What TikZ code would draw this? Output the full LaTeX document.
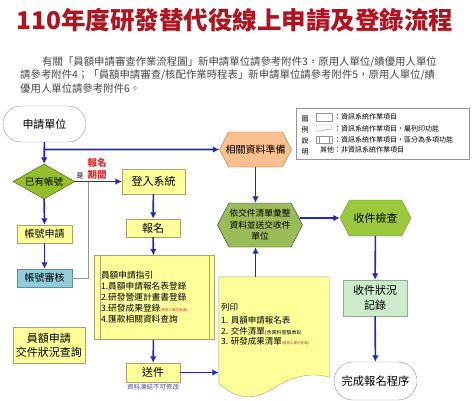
\documentclass[tikz,border=0pt]{standalone}
\usepackage{fontspec}
\setmainfont{Noto Sans CJK TC}
\usetikzlibrary{arrows.meta, shapes.geometric, shapes.symbols, positioning}

\definecolor{titlered}{RGB}{176,18,30}
\definecolor{paragray}{RGB}{70,70,70}
\definecolor{flowblue}{RGB}{30,40,200}
\definecolor{boxyellow}{RGB}{255,255,153}
\definecolor{boxline}{RGB}{170,165,110}
\definecolor{diagreen}{RGB}{148,190,40}
\definecolor{diaedge}{RGB}{60,90,20}
\definecolor{acctblue}{RGB}{146,205,220}
\definecolor{acctedge}{RGB}{100,140,160}
\definecolor{prepfill}{RGB}{250,192,143}
\definecolor{prepedge}{RGB}{180,120,70}
\definecolor{collectfill}{RGB}{155,187,89}
\definecolor{collectedge}{RGB}{40,60,25}
\definecolor{checkfill}{RGB}{155,200,60}
\definecolor{checkedge}{RGB}{110,150,50}
\definecolor{mintfill}{RGB}{204,236,204}
\definecolor{mintedge}{RGB}{140,175,140}
\definecolor{termedge}{RGB}{150,150,150}
\definecolor{warnred}{RGB}{220,40,40}
\definecolor{notegray}{RGB}{80,80,150}

\newcommand{\fsz}[1]{\fontsize{#1}{#1}\selectfont}

\begin{document}
\begin{tikzpicture}[x=1pt, y=-1pt,
  flow/.style={draw=flowblue, line width=1.6pt, -{Latex[length=6.5pt,width=6.5pt]}},
  greyline/.style={draw=termedge, line width=0.8pt},
  box/.style={draw=boxline, fill=boxyellow, inner sep=0pt, align=center},
  term/.style={draw=termedge, fill=white, inner sep=0pt, rounded corners=18pt},
  hexa/.style={shape=signal, signal to=east and west, signal from=nowhere, signal pointer angle=125, inner sep=0pt, align=center},
  legendtext/.style={anchor=west, inner sep=0pt, font=\fsz{7}}]
\useasboundingbox (0,0) rectangle (474,400);

% title and note
\node[font=\fsz{24.5}\bfseries, text=titlered] (title) at (235,20) {110年度研發替代役線上申請及登錄流程};
\node[anchor=west, inner sep=0pt, font=\fsz{10.4}, text=paragray] (para1) at (42,62)
  {有關「員額申請審查作業流程圖」新申請單位請參考附件3，原用人單位/績優用人單位};
\node[anchor=west, inner sep=0pt, font=\fsz{10.4}, text=paragray] (para2) at (20,75.5)
  {請參考附件4；「員額申請審查/核配作業時程表」新申請單位請參考附件5，原用人單位/績};
\node[anchor=west, inner sep=0pt, font=\fsz{10.4}, text=paragray] (para3) at (20,89)
  {優用人單位請參考附件6。};

% legend
\node[draw=termedge, fill=white, minimum width=173, minimum height=51, inner sep=0pt] (legend) at (382.5,134) {};
\node[font=\fontsize{7}{11}\selectfont, align=center, inner sep=0pt] (legendtitle) at (305,136) {圖\\例\\說\\明};
\draw[termedge] (316,113) rectangle (332,121);
\draw[termedge] (316,131) -- (316,125) -- (332,125) -- (332,130) .. controls (326,127) and (322,133) .. (316,131);
\draw[termedge] (316,136) rectangle (332,143);
\draw[termedge] (319,136) -- (319,143);
\draw[termedge] (329,136) -- (329,143);
\node[legendtext] (leg1) at (334,117) {：資訊系統作業項目};
\node[legendtext] (leg2) at (334,128.5) {：資訊系統作業項目，屬列印功能};
\node[legendtext] (leg3) at (334,139.5) {：資訊系統作業項目，區分為多項功能};
\node[legendtext] (leg4) at (320,150) {其他：非資訊系統作業項目};

% left column
\node[term, minimum width=83, minimum height=36, font=\fsz{11}] (apply) at (44.5,124) {申請單位};
\node[diamond, aspect=1.8, fill=diagreen, draw=diaedge, minimum width=62, minimum height=35, inner sep=0pt, font=\fsz{9.5}] (hasacct) at (44,181.5) {已有帳號};
\node[box, minimum width=55, minimum height=18, font=\fsz{10}] (acctapp) at (44.5,234) {帳號申請};
\node[box, fill=acctblue, draw=acctedge, minimum width=55, minimum height=18, font=\fsz{10}] (acctrev) at (44.5,278) {帳號審核};
\node[box, minimum width=72, minimum height=36, font=\fontsize{11}{14}\selectfont] (query) at (49,345) {員額申請\\交件狀況查詢};
\node[font=\fsz{7}, inner sep=0pt] (yes) at (80,176) {是};
\node[font=\fontsize{9.5}{12}\selectfont\bfseries, text=warnred, align=center, inner sep=0pt] (period) at (97,169) {報名\\期間};
\coordinate (yesjoin) at (88,181.5);

% middle column
\node[box, minimum width=63, minimum height=25, font=\fsz{11}] (login) at (153.5,181.5) {登入系統};
\node[box, minimum width=54, minimum height=18, font=\fsz{11}] (signup) at (153,228) {報名};
\node[box, minimum width=120, minimum height=84, text width=106, align=left, font=\fontsize{8.7}{11}\selectfont] (guide) at (154,297.5)
  {員額申請指引\\1.員額申請報名表登錄\\2.研發營運計畫書登錄\\3.研發成果登錄{\color{warnred}\fsz{3.5}(原用人單位免填)}\\4.匯款相關資料查詢};
\draw[boxline] ([xshift=6pt]guide.north west) -- ([xshift=6pt]guide.south west);
\draw[boxline] ([xshift=-5pt]guide.north east) -- ([xshift=-5pt]guide.south east);
\node[box, minimum width=54, minimum height=19, font=\fsz{11}] (send) at (153,372.5) {送件};
\node[font=\fsz{6.5}, text=notegray, inner sep=0pt, below=2pt of send] (frozen) {資料凍結不可修改};

% right part
\node[hexa, fill=prepfill, draw=prepedge, minimum width=72, minimum height=35, font=\fsz{10}] (prep) at (255.5,149.5) {\makebox[50pt]{相關資料準備}};
\node[hexa, fill=collectfill, draw=collectedge, minimum width=85, minimum height=44, font=\fontsize{8.7}{11.5}\selectfont] (collect) at (260,225)
  {依交件清單彙整\\資料並送交收件\\單位};
\node[minimum width=110, minimum height=106, inner sep=0pt] (prn) at (274,330) {};
\filldraw[draw=boxline, fill=boxyellow] (prn.south west) -- (prn.north west) -- (prn.north east) -- ([yshift=6pt]prn.south east)
  .. controls (312,372) and (292,376) .. (274,388) .. controls (258,398) and (240,403) .. (prn.south west) -- cycle;
\node[anchor=north west, align=left, inner sep=0pt, font=\fontsize{8.5}{10.5}\selectfont] (prntext) at (221,303)
  {列印\\[3pt]1. 員額申請報名表\\2. 交件清單{\fsz{5}(含資料查驗表B)}\\3. 研發成果清單{\color{warnred}\fsz{3.5}(原用人單位免填)}};
\node[hexa, fill=checkfill, draw=checkedge, minimum width=71, minimum height=36, font=\fsz{11}] (check) at (375.5,218) {收件檢查};
\node[box, fill=mintfill, draw=mintedge, minimum width=64, minimum height=36, font=\fontsize{11}{15}\selectfont] (record) at (375,298) {收件狀況\\記錄};
\node[term, minimum width=83, minimum height=38, rounded corners=19pt, font=\fsz{11.3}] (done) at (375.5,381) {完成報名程序};

% connectors
\draw[flow] (apply) -- (hasacct);
\draw[flow] (apply.south |- prep.west) -- (prep);
\draw[flow] (hasacct) -- (login);
\draw[greyline] (yesjoin) |- (acctrev.east);
\draw[flow] (hasacct) -- (acctapp);
\draw[flow] (acctapp) -- (acctrev);
\draw[flow] (login) -- (signup);
\draw[flow] (signup) -- (guide);
\draw[flow] (guide) -- (send);
\draw[flow] (send) -- (send -| prn.west);
\draw[flow] (prep.south) -- (prep.south |- collect.north);
\draw[flow] (prep.south |- prn.north) -- (prep.south |- collect.south);
\draw[flow, shorten <=-3pt] (collect.east |- check.west) -- (check);
\draw[flow] (check) -- (record);
\draw[flow] (record) -- (done);
\end{tikzpicture}
\end{document}
